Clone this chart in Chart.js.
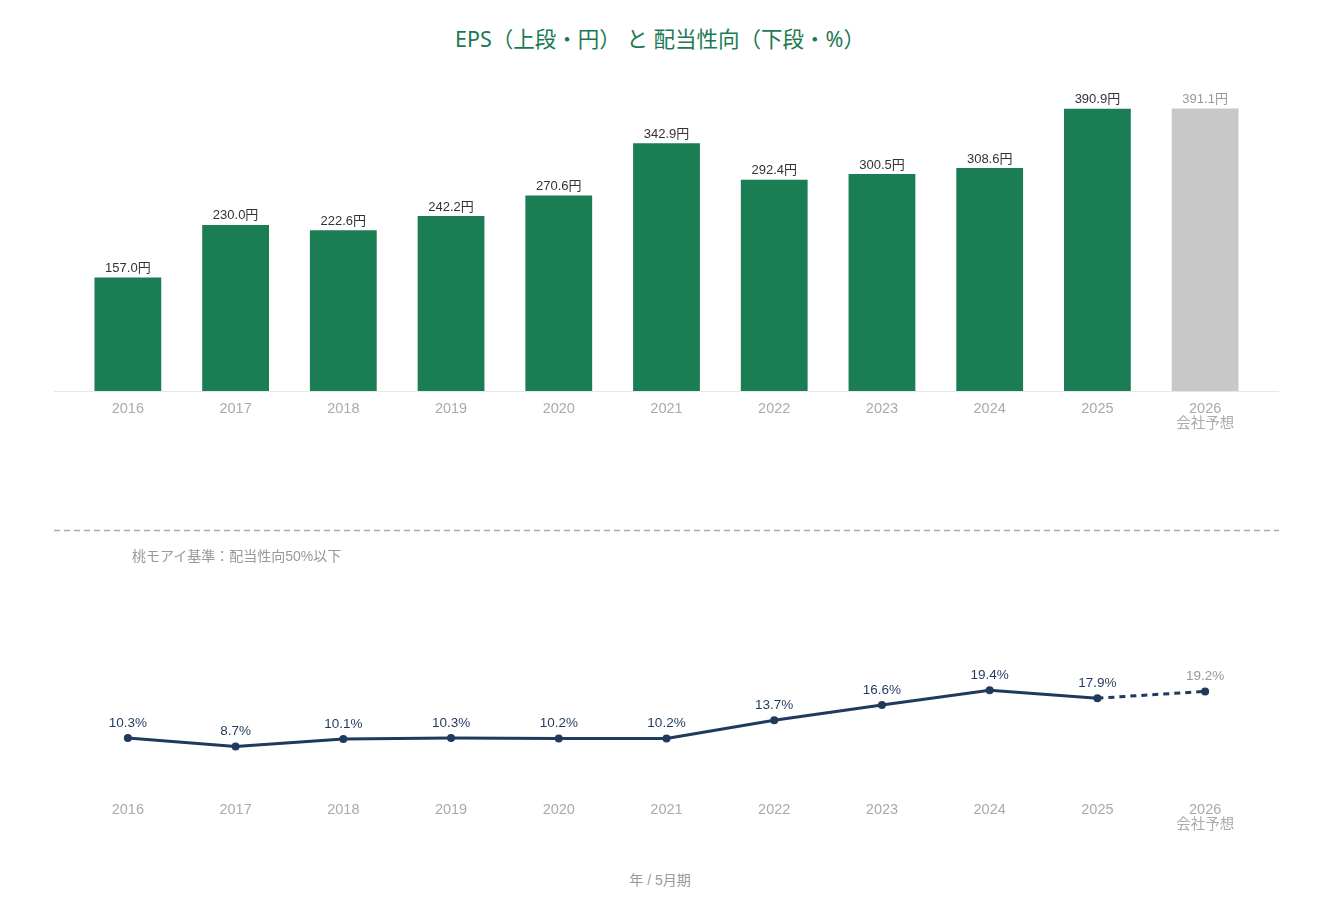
<!DOCTYPE html>
<html lang="ja">
  <head>
    <meta charset="UTF-8" />
    <title>EPS と 配当性向</title>
    <script src="https://cdn.jsdelivr.net/npm/chart.js"></script>
    <style>
      body {
        margin: 0;
        width: 1320px;
        height: 912px;
        background: #fff;
        position: relative;
        font-family: "Liberation Sans", "Noto Sans CJK JP", sans-serif;
      }
      #title {
        position: absolute;
        top: 22px;
        left: 0;
        width: 1320px;
        text-align: center;
        font-family: "Noto Sans", "Noto Sans CJK JP", sans-serif;
        font-size: 21.5px;
        color: #1b7a52;
      }
      .box {
        position: absolute;
        left: 0;
        width: 1320px;
      }
      #note {
        position: absolute;
        left: 132px;
        top: 545px;
        font-size: 14px;
        color: #999;
      }
      #xtitle {
        position: absolute;
        top: 869px;
        left: 0;
        width: 1320px;
        text-align: center;
        font-size: 14px;
        color: #999;
      }
    </style>
  </head>
  <body>
    <div id="title">EPS（上段・円） と 配当性向（下段・%）</div>
    <div class="box" style="top: 60px; height: 380px">
      <canvas id="epsChart"></canvas>
    </div>
    <div class="box" style="top: 500px; height: 341px">
      <canvas id="payoutChart"></canvas>
    </div>
    <div id="note">桃モアイ基準：配当性向50%以下</div>
    <div id="xtitle">年 / 5月期</div>

    <script>
      const years = ["2016", "2017", "2018", "2019", "2020", "2021", "2022", "2023", "2024", "2025", ["2026", "会社予想"]];
      const eps = [157.0, 230.0, 222.6, 242.2, 270.6, 342.9, 292.4, 300.5, 308.6, 390.9, 391.1];
      const payout = [10.3, 8.7, 10.1, 10.3, 10.2, 10.2, 13.7, 16.6, 19.4, 17.9, 19.2];

      const GREEN = "#1b7d53";
      const GREY_BAR = "#c8c8c8";
      const NAVY = "#1f3a5c";
      const FONT = "'Liberation Sans', 'Noto Sans CJK JP', sans-serif";
      const lastIdx = eps.length - 1;

      const xAxis = {
        offset: true,
        grid: { display: false },
        border: { display: false },
        ticks: {
          color: "#aaa",
          font: { family: FONT, size: 14.5, lineHeight: 1.02 },
          padding: 3,
          maxRotation: 0,
        },
        afterFit(scale) {
          scale.height = 49;
        },
      };

      // labels above each bar / point
      const valueLabels = {
        id: "valueLabels",
        afterDatasetsDraw(chart, args, opts) {
          const ctx = chart.ctx;
          const meta = chart.getDatasetMeta(0);
          const values = chart.data.datasets[0].data;
          ctx.save();
          ctx.font = opts.size + "px " + FONT;
          ctx.textAlign = "center";
          ctx.textBaseline = "middle";
          meta.data.forEach((el, i) => {
            ctx.fillStyle = i === lastIdx ? "#999" : opts.color;
            ctx.fillText(values[i].toFixed(1) + opts.suffix, el.x, el.y - opts.gap);
          });
          ctx.restore();
        },
      };

      // horizontal rule extending slightly beyond chart area
      const rule = {
        id: "rule",
        beforeDatasetsDraw(chart, args, opts) {
          const { ctx, chartArea } = chart;
          const y = opts.where === "top" ? chartArea.top : chartArea.bottom;
          ctx.save();
          ctx.strokeStyle = opts.color;
          ctx.lineWidth = opts.width;
          ctx.setLineDash(opts.dash || []);
          ctx.beginPath();
          ctx.moveTo(chartArea.left - 20, y + 0.5);
          ctx.lineTo(chartArea.right + 20, y + 0.5);
          ctx.stroke();
          ctx.restore();
        },
      };

      new Chart(document.getElementById("epsChart"), {
        type: "bar",
        data: {
          labels: years,
          datasets: [
            {
              data: eps,
              backgroundColor: eps.map((v, i) => (i === lastIdx ? GREY_BAR : GREEN)),
              categoryPercentage: 1,
              barPercentage: 0.62,
            },
          ],
        },
        options: {
          responsive: true,
          maintainAspectRatio: false,
          animation: false,
          layout: { padding: { left: 74, right: 61, top: 6, bottom: 0 } },
          plugins: {
            legend: { display: false },
            tooltip: { enabled: false },
            valueLabels: { size: 13, color: "#333", suffix: "円", gap: 9 },
            rule: { where: "bottom", color: "#e8e8e8", width: 1 },
          },
          scales: {
            x: xAxis,
            y: { display: false, min: 0, max: 450 },
          },
        },
        plugins: [valueLabels, rule],
      });

      new Chart(document.getElementById("payoutChart"), {
        type: "line",
        data: {
          labels: years,
          datasets: [
            {
              data: payout,
              borderColor: NAVY,
              backgroundColor: NAVY,
              borderWidth: 3,
              pointRadius: 4,
              pointBackgroundColor: NAVY,
              pointBorderWidth: 0,
              tension: 0,
              segment: {
                borderDash: (c) => (c.p1DataIndex === lastIdx ? [6, 5] : undefined),
              },
            },
          ],
        },
        options: {
          responsive: true,
          maintainAspectRatio: false,
          animation: false,
          layout: { padding: { left: 74, right: 61, top: 30, bottom: 0 } },
          plugins: {
            legend: { display: false },
            tooltip: { enabled: false },
            valueLabels: { size: 13.5, color: NAVY, suffix: "%", gap: 15 },
            rule: { where: "top", color: "#aaa", width: 1.5, dash: [6, 4] },
          },
          scales: {
            x: xAxis,
            y: { display: false, min: 0, max: 50 },
          },
        },
        plugins: [valueLabels, rule],
      });
    </script>
  </body>
</html>
